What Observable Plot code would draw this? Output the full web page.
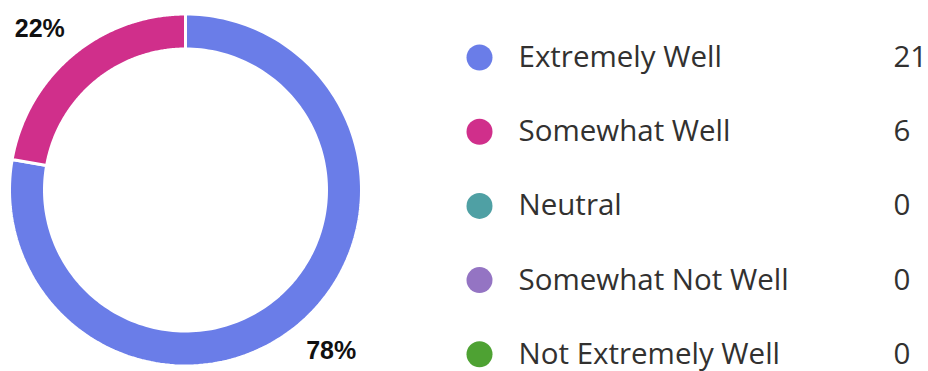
<!DOCTYPE html>
<html>
<head>
<meta charset="utf-8">
<script src="https://cdn.jsdelivr.net/npm/d3@7"></script>
<script src="https://cdn.jsdelivr.net/npm/@observablehq/plot@0.6"></script>
<style>
  html, body { margin: 0; padding: 0; background: #fff; }
  #chart svg { display: block; }
</style>
</head>
<body>
<div id="chart"></div>
<script>
// ---- data ----
const categories = ["Extremely Well", "Somewhat Well", "Neutral", "Somewhat Not Well", "Not Extremely Well"];
const counts = [21, 6, 0, 0, 0];
const colors = ["#6a7de8", "#d02f8b", "#4fa0a4", "#9474c3", "#4ea233"];

// ---- layout ----
const W = 928, H = 371;
const cx = 185, cy = 189.5, rOuter = 176, rInner = 141;
const labelR = 217, labelShift = -0.038;
const legendX = 479, legendY0 = 57, legendStep = 74.2;

const total = d3.sum(counts);
const pie = d3.pie().sort(null).value(d => d.count).startAngle(0).endAngle(2 * Math.PI);
const rows = categories.map((c, i) => ({category: c, count: counts[i], color: colors[i], i}));
const arcs = pie(rows).filter(a => a.data.count > 0);

// polygon points for each slice
const pts = [];
for (const a of arcs) {
  const n = 180;
  const ring = [];
  for (let k = 0; k <= n; k++) {
    const t = a.startAngle + (a.endAngle - a.startAngle) * k / n;
    ring.push([cx + rOuter * Math.sin(t), cy - rOuter * Math.cos(t)]);
  }
  for (let k = n; k >= 0; k--) {
    const t = a.startAngle + (a.endAngle - a.startAngle) * k / n;
    ring.push([cx + rInner * Math.sin(t), cy - rInner * Math.cos(t)]);
  }
  ring.push(ring[0]);
  for (const [x, y] of ring) pts.push({x, y, category: a.data.category});
}

const pctLabels = arcs.map(a => {
  const m = (a.startAngle + a.endAngle) / 2 + labelShift;
  return {
    x: cx + labelR * Math.sin(m),
    y: cy - labelR * Math.cos(m),
    text: Math.round(a.data.count / total * 100) + "%"
  };
});

const legend = rows.map(r => ({...r, y: legendY0 + r.i * legendStep}));

const chart = Plot.plot({
  width: W,
  height: H,
  margin: 0,
  x: {domain: [0, W], range: [0, W], axis: null},
  y: {domain: [0, H], range: [0, H], axis: null},
  color: {domain: categories, range: colors},
  style: {fontFamily: "'Open Sans', 'Noto Sans', sans-serif", background: "#fff"},
  marks: [
    Plot.line(pts, {x: "x", y: "y", z: "category", fill: "category", stroke: "#fff", strokeWidth: 3, curve: "linear"}),
    Plot.text(pctLabels, {x: "x", y: "y", text: "text", fontSize: 25, fontWeight: "bold", fill: "#111",
      fontFamily: "'Liberation Sans', Arial, sans-serif"}),
    Plot.dot(legend, {x: legendX, y: "y", r: 13, fill: "category", stroke: null}),
    Plot.text(legend, {x: legendX + 39, y: "y", text: "category", textAnchor: "start", fontSize: 29.5, fill: "#323130"}),
    Plot.text(legend, {x: legendX + 414, y: "y", text: d => String(d.count), textAnchor: "start", fontSize: 29.5, fill: "#323130"})
  ]
});
document.getElementById("chart").appendChild(chart);
</script>
</body>
</html>
